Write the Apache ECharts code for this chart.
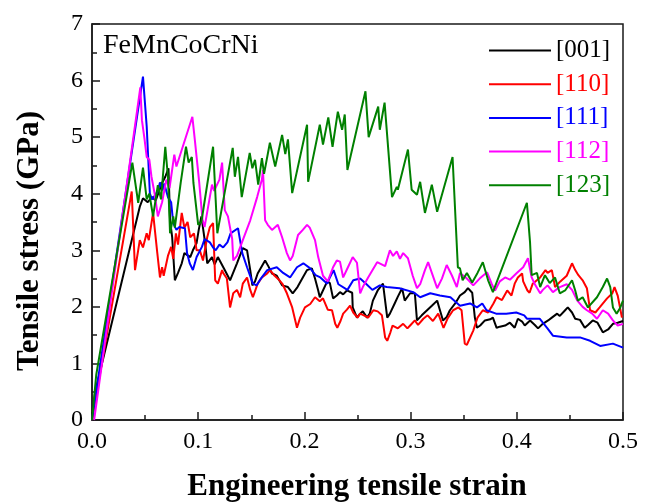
<!DOCTYPE html>
<html>
<head>
<meta charset="utf-8">
<script src="https://cdn.jsdelivr.net/npm/echarts@6/dist/echarts.min.js"></script>
<style>html,body{margin:0;padding:0;background:#fff}#c{width:651px;height:502px}</style>
</head>
<body>
<div id="c"></div>
<script>
var xTicks = [0, 0.1, 0.2, 0.3, 0.4, 0.5];
var yTicks = [0, 1, 2, 3, 4, 5, 6, 7];
var seriesNames = ['[001]', '[110]', '[111]', '[112]', '[123]'];
var seriesColors = ['#000000', '#ff0000', '#0000ff', '#ff00ff', '#008000'];

var s001 = [[0,0],[0.003,0.5],[0.045,3.77],[0.048,3.92],[0.0525,3.85],[0.0565,3.94],[0.06,3.88],[0.066,4.19],[0.069,4.3],[0.072,4.45],[0.0735,3.53],[0.0755,3.23],[0.078,2.47],[0.081,2.6],[0.0845,2.77],[0.087,2.95],[0.0925,2.88],[0.095,3.0],[0.0985,3.13],[0.1005,3.36],[0.103,3.6],[0.1065,3.13],[0.1085,2.77],[0.113,2.88],[0.1155,2.75],[0.1185,2.88],[0.125,2.65],[0.13,2.47],[0.1365,2.77],[0.142,3.04],[0.146,3.0],[0.149,2.65],[0.151,2.38],[0.1535,2.45],[0.156,2.59],[0.163,2.82],[0.166,2.72],[0.1695,2.59],[0.174,2.55],[0.179,2.38],[0.1845,2.35],[0.189,2.24],[0.1935,2.35],[0.1985,2.52],[0.2025,2.65],[0.207,2.68],[0.21,2.5],[0.213,2.29],[0.2145,2.17],[0.2215,2.45],[0.224,2.42],[0.227,2.15],[0.2305,2.2],[0.2335,2.26],[0.2365,2.22],[0.24,2.29],[0.245,2.25],[0.2455,1.99],[0.2495,1.81],[0.2525,1.88],[0.255,1.92],[0.259,1.81],[0.2615,1.88],[0.2645,2.11],[0.269,2.29],[0.274,2.41],[0.278,1.81],[0.2805,1.88],[0.285,2.06],[0.288,2.18],[0.292,2.33],[0.2945,2.11],[0.2995,2.24],[0.304,2.24],[0.306,1.76],[0.3105,1.85],[0.3155,1.94],[0.32,2.02],[0.325,2.11],[0.3275,1.95],[0.3305,1.76],[0.334,1.82],[0.337,1.94],[0.342,2.06],[0.3465,2.2],[0.351,2.26],[0.354,2.33],[0.358,2.25],[0.3605,1.81],[0.3625,1.63],[0.3655,1.67],[0.37,1.76],[0.375,1.78],[0.3775,1.81],[0.381,1.63],[0.384,1.65],[0.389,1.67],[0.3935,1.72],[0.398,1.63],[0.401,1.79],[0.405,1.74],[0.4075,1.67],[0.4125,1.76],[0.417,1.68],[0.42,1.62],[0.4245,1.7],[0.4295,1.76],[0.433,1.81],[0.438,1.88],[0.4405,1.84],[0.4455,1.94],[0.448,1.99],[0.452,1.9],[0.455,1.79],[0.4595,1.77],[0.464,1.63],[0.467,1.68],[0.4715,1.76],[0.476,1.72],[0.481,1.55],[0.486,1.6],[0.4905,1.7],[0.495,1.72],[0.5,1.75]];

var s110 = [[0,0],[0.0374,4.04],[0.0405,2.65],[0.045,3.18],[0.048,3.05],[0.0515,3.3],[0.0535,3.18],[0.0575,3.66],[0.0615,2.95],[0.064,2.52],[0.066,2.7],[0.0675,2.55],[0.0715,2.9],[0.0745,3.06],[0.0765,2.85],[0.079,3.3],[0.081,3.1],[0.0845,3.66],[0.087,3.4],[0.09,3.5],[0.0925,3.23],[0.096,3.3],[0.0985,3.0],[0.1015,3.0],[0.1045,2.82],[0.1085,3.23],[0.111,3.41],[0.114,3.48],[0.116,2.47],[0.1185,2.41],[0.1225,2.65],[0.1235,2.6],[0.127,2.5],[0.13,1.99],[0.133,2.24],[0.1365,2.3],[0.1395,2.17],[0.142,2.41],[0.146,2.52],[0.149,2.3],[0.1515,2.17],[0.156,2.41],[0.16,2.52],[0.165,2.59],[0.1675,2.65],[0.172,2.55],[0.1765,2.47],[0.1795,2.4],[0.1835,2.24],[0.1885,1.99],[0.193,1.63],[0.196,1.81],[0.2005,1.99],[0.2055,2.05],[0.21,2.17],[0.2145,2.1],[0.2175,2.15],[0.222,1.95],[0.226,1.94],[0.229,1.7],[0.231,1.63],[0.234,1.75],[0.2365,1.88],[0.24,1.95],[0.243,2.02],[0.246,1.9],[0.25,1.81],[0.2525,1.88],[0.256,1.85],[0.26,1.81],[0.265,1.94],[0.269,1.92],[0.273,1.85],[0.276,1.46],[0.278,1.4],[0.281,1.55],[0.283,1.67],[0.288,1.62],[0.293,1.7],[0.297,1.62],[0.3,1.68],[0.304,1.76],[0.307,1.68],[0.312,1.79],[0.316,1.85],[0.321,1.75],[0.326,1.88],[0.331,1.63],[0.335,1.8],[0.34,1.94],[0.345,1.99],[0.348,1.94],[0.351,1.35],[0.353,1.33],[0.359,1.58],[0.363,1.81],[0.368,1.94],[0.373,1.9],[0.378,2.06],[0.381,2.17],[0.386,2.12],[0.391,2.29],[0.395,2.2],[0.398,2.41],[0.401,2.52],[0.405,2.59],[0.406,2.45],[0.41,2.29],[0.412,2.25],[0.415,2.41],[0.422,2.52],[0.427,2.65],[0.429,2.6],[0.433,2.65],[0.436,2.35],[0.441,2.45],[0.447,2.55],[0.452,2.77],[0.455,2.65],[0.458,2.56],[0.462,2.47],[0.466,2.33],[0.469,1.94],[0.474,1.9],[0.478,1.99],[0.485,2.15],[0.49,2.24],[0.492,2.35],[0.495,2.2],[0.499,1.81]];

var s111 = [[0,0],[0.048,6.07],[0.0515,5.19],[0.053,4.6],[0.0545,4.0],[0.0565,3.9],[0.059,3.96],[0.062,4.05],[0.064,4.2],[0.0665,4.06],[0.068,4.18],[0.0715,3.94],[0.0745,3.85],[0.0765,3.48],[0.0795,3.36],[0.082,3.41],[0.0875,3.39],[0.0895,2.95],[0.092,2.77],[0.095,2.65],[0.0985,2.88],[0.1035,3.06],[0.106,3.2],[0.111,3.14],[0.114,3.05],[0.1165,3.0],[0.12,3.1],[0.1235,3.05],[0.1275,3.14],[0.1305,3.3],[0.1375,3.39],[0.1415,2.95],[0.146,2.7],[0.1515,2.41],[0.155,2.38],[0.159,2.5],[0.165,2.65],[0.174,2.7],[0.18,2.6],[0.1865,2.52],[0.193,2.7],[0.199,2.77],[0.2055,2.68],[0.2105,2.56],[0.215,2.52],[0.2215,2.41],[0.2235,2.5],[0.2275,2.65],[0.232,2.4],[0.2405,2.3],[0.246,2.47],[0.2525,2.5],[0.2585,2.4],[0.264,2.3],[0.271,2.38],[0.2775,2.35],[0.2895,2.33],[0.3025,2.26],[0.309,2.17],[0.3185,2.24],[0.3275,2.2],[0.3375,2.17],[0.3465,2.02],[0.356,2.06],[0.3625,1.99],[0.3675,2.06],[0.3715,1.94],[0.3805,1.88],[0.39,1.88],[0.3995,1.9],[0.407,1.85],[0.4095,1.79],[0.4215,1.79],[0.4285,1.63],[0.434,1.49],[0.447,1.46],[0.4595,1.46],[0.469,1.4],[0.4785,1.31],[0.4905,1.35],[0.5,1.28]];

var s112 = [[0.002,0],[0.0455,5.88],[0.047,5.3],[0.0495,4.96],[0.0515,4.65],[0.054,4.6],[0.056,4.3],[0.059,4.0],[0.062,3.6],[0.066,3.85],[0.07,4.25],[0.073,4.1],[0.0775,4.69],[0.0795,4.48],[0.0945,5.36],[0.097,4.92],[0.101,4.19],[0.104,3.55],[0.106,3.41],[0.113,4.16],[0.115,4.05],[0.12,4.25],[0.1225,4.55],[0.125,3.71],[0.128,3.6],[0.132,3.2],[0.133,2.82],[0.1365,2.9],[0.142,3.18],[0.149,3.53],[0.1555,3.94],[0.16,4.25],[0.161,4.42],[0.163,3.53],[0.1655,3.45],[0.1695,3.36],[0.175,3.45],[0.179,3.23],[0.1835,2.95],[0.1865,2.82],[0.189,2.9],[0.194,3.27],[0.1985,3.36],[0.2025,3.45],[0.205,3.4],[0.21,3.18],[0.213,2.88],[0.2175,2.55],[0.222,2.45],[0.227,2.7],[0.2305,2.82],[0.2335,2.8],[0.2365,2.52],[0.241,2.7],[0.2455,2.88],[0.2495,2.78],[0.2525,2.24],[0.255,2.35],[0.26,2.52],[0.2685,2.79],[0.276,2.72],[0.2805,3.0],[0.2835,2.9],[0.287,2.98],[0.29,2.85],[0.293,2.95],[0.2975,2.86],[0.302,2.55],[0.306,2.33],[0.309,2.4],[0.3135,2.65],[0.3165,2.79],[0.32,2.6],[0.325,2.33],[0.3295,2.5],[0.334,2.74],[0.339,2.55],[0.3435,2.35],[0.3465,2.6],[0.353,2.5],[0.359,2.38],[0.365,2.5],[0.372,2.61],[0.3765,2.4],[0.3795,2.29],[0.384,2.45],[0.389,2.52],[0.3935,2.48],[0.4,2.6],[0.406,2.7],[0.4105,2.86],[0.414,2.52],[0.417,2.4],[0.422,2.24],[0.4245,2.3],[0.429,2.38],[0.434,2.26],[0.4405,2.35],[0.447,2.4],[0.452,2.3],[0.457,2.11],[0.462,2.0],[0.466,1.94],[0.471,1.88],[0.4755,1.79],[0.481,1.94],[0.486,1.88],[0.4905,1.76],[0.495,1.67],[0.5,1.7]];

var s123 = [[0,0],[0.004,0.8],[0.038,4.55],[0.0435,3.84],[0.048,4.46],[0.0515,3.9],[0.054,4.0],[0.0575,3.6],[0.062,4.15],[0.065,3.9],[0.069,4.83],[0.0715,4.3],[0.0735,3.3],[0.0765,3.6],[0.078,3.4],[0.0835,4.19],[0.0885,4.83],[0.091,4.55],[0.094,4.65],[0.0955,4.19],[0.1,3.45],[0.103,3.5],[0.114,4.83],[0.118,3.3],[0.1325,4.81],[0.1345,4.3],[0.1375,4.65],[0.141,3.94],[0.1485,4.72],[0.151,4.45],[0.1535,4.6],[0.1565,4.16],[0.16,4.63],[0.162,4.35],[0.1675,4.9],[0.1725,4.48],[0.179,5.04],[0.182,4.7],[0.1845,4.96],[0.1885,4.01],[0.2025,5.22],[0.2035,4.21],[0.2145,5.22],[0.2175,4.87],[0.2225,5.35],[0.2265,4.83],[0.2315,5.45],[0.2355,5.13],[0.238,5.4],[0.2405,4.42],[0.2575,5.81],[0.2605,5.0],[0.2695,5.54],[0.271,5.13],[0.2755,5.61],[0.2825,3.94],[0.287,4.12],[0.288,4.07],[0.2975,4.78],[0.301,4.07],[0.306,3.98],[0.309,4.21],[0.3135,3.66],[0.32,4.16],[0.325,3.68],[0.3395,4.65],[0.3445,2.7],[0.3465,2.68],[0.349,2.47],[0.353,2.6],[0.358,2.43],[0.363,2.6],[0.368,2.79],[0.373,2.47],[0.3775,2.26],[0.4095,3.84],[0.4125,3.13],[0.414,2.56],[0.419,2.6],[0.422,2.35],[0.4265,2.56],[0.431,2.42],[0.436,2.52],[0.4405,2.24],[0.4455,2.29],[0.452,2.47],[0.455,2.29],[0.4575,2.11],[0.462,2.17],[0.467,1.99],[0.4755,2.17],[0.481,2.35],[0.485,2.5],[0.488,2.35],[0.4905,1.99],[0.494,1.88],[0.497,1.97],[0.5,2.11]];

var seriesData = [s001, s110, s111, s112, s123];

var chart = echarts.init(document.getElementById('c'), null, {renderer: 'canvas'});
var serif = 'Liberation Serif';
var axisColor = '#1a1a1a';

var series = seriesNames.map(function (n, i) {
  return {
    name: n, type: 'line', data: seriesData[i], showSymbol: false, symbol: 'none',
    lineStyle: {color: seriesColors[i], width: 2}, itemStyle: {color: seriesColors[i]},
    animation: false, z: 2 + i
  };
});

chart.setOption({
  backgroundColor: '#fff',
  animation: false,
  grid: {left: 92, right: 28, top: 24, bottom: 82, show: true, borderColor: axisColor, borderWidth: 1.5, backgroundColor: 'transparent'},
  legend: {
    orient: 'vertical', left: 484, top: 33, itemWidth: 62, itemHeight: 2, itemGap: 8.7, icon: 'rect',
    selectedMode: false,
    textStyle: {fontFamily: serif, fontSize: 25, lineHeight: 24},
    data: seriesNames.map(function (n, i) { return {name: n, textStyle: {color: seriesColors[i], fontFamily: serif, fontSize: 25}}; })
  },
  xAxis: {
    type: 'value', min: xTicks[0], max: xTicks[xTicks.length - 1], interval: 0.1,
    axisLine: {show: true, onZero: false, lineStyle: {color: axisColor, width: 1.5}},
    axisTick: {show: true, inside: true, length: 8, lineStyle: {color: axisColor, width: 1.5}},
    minorTick: {show: true, splitNumber: 2, length: 5, lineStyle: {color: axisColor, width: 1.5}},
    splitLine: {show: false},
    axisLabel: {margin: 10, fontFamily: serif, fontSize: 24, color: '#000',
      formatter: function (v) { return v.toFixed(1); }}
  },
  yAxis: {
    type: 'value', min: yTicks[0], max: yTicks[yTicks.length - 1], interval: 1,
    axisLine: {show: true, onZero: false, lineStyle: {color: axisColor, width: 1.5}},
    axisTick: {show: true, inside: true, length: 8, lineStyle: {color: axisColor, width: 1.5}},
    minorTick: {show: true, splitNumber: 2, length: 5, lineStyle: {color: axisColor, width: 1.5}},
    splitLine: {show: false},
    axisLabel: {margin: 9, fontFamily: serif, fontSize: 24, color: '#000'}
  },
  graphic: [
    {type: 'text', left: 103, top: 32, style: {text: 'FeMnCoCrNi', fontFamily: serif, fontSize: 28, font: '28px Liberation Serif', fill: '#000'}},
    {type: 'text', x: 29.5, y: 241, rotation: Math.PI / 2,
      style: {text: 'Tensile stress (GPa)', font: 'bold 31px Liberation Serif', fill: '#000', textAlign: 'center', textVerticalAlign: 'middle'}},
    {type: 'text', x: 357, y: 487,
      style: {text: 'Engineering tensile strain', font: 'bold 31px Liberation Serif', fill: '#000', textAlign: 'center', textVerticalAlign: 'middle'}}
  ],
  series: series
});
</script>
</body>
</html>
